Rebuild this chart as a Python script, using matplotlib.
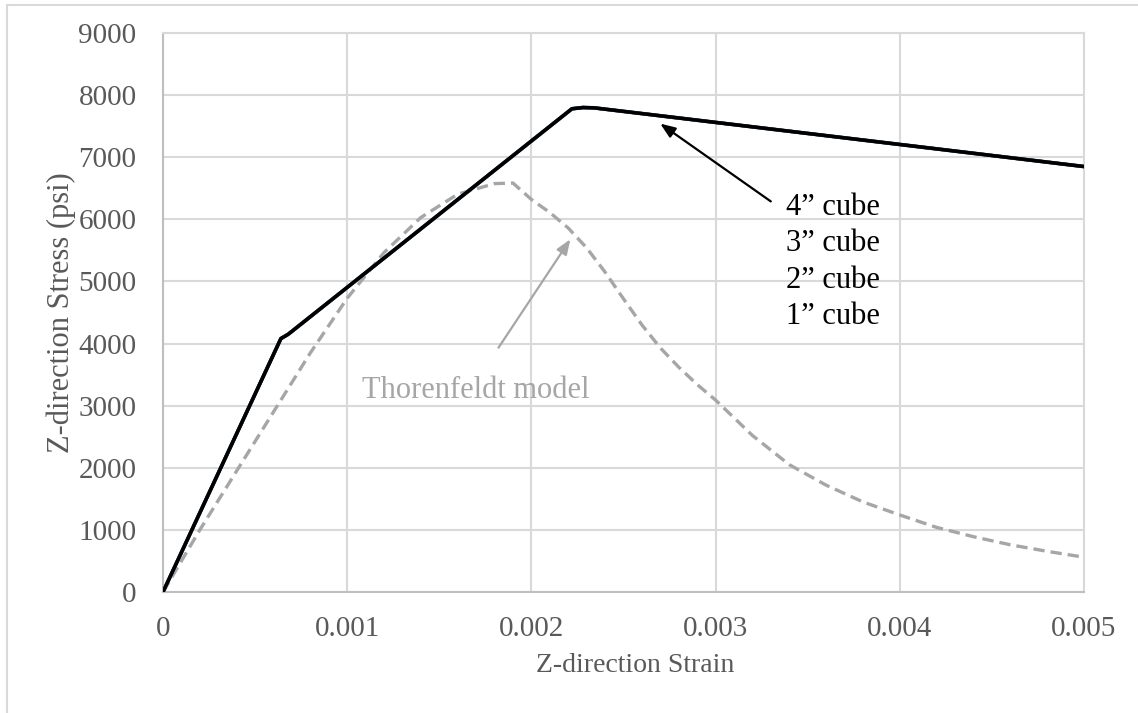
import matplotlib
matplotlib.use("Agg")
import matplotlib.pyplot as plt
from matplotlib.lines import Line2D

# ---- data ----
cube_strain = [0.0, 0.00064, 0.00068, 0.00222, 0.00228, 0.00234, 0.005]
cube4_stress = [0, 4080, 4150, 7780, 7800, 7795, 6850]
cube3_stress = [0, 4080, 4150, 7780, 7800, 7795, 6850]
cube2_stress = [0, 4080, 4150, 7780, 7800, 7795, 6850]
cube1_stress = [0, 4080, 4150, 7780, 7800, 7795, 6850]
cube_labels = ["4\u201d cube", "3\u201d cube", "2\u201d cube", "1\u201d cube"]

thor_strain = [0.0, 0.0002, 0.0004, 0.0006, 0.0008, 0.001, 0.0012, 0.0014, 0.0016,
               0.0018, 0.0019, 0.002, 0.0021, 0.0022, 0.0023, 0.0024, 0.0025,
               0.0026, 0.0027, 0.0028, 0.0029, 0.003, 0.0032, 0.0034, 0.0036,
               0.0038, 0.004, 0.0042, 0.0044, 0.0046, 0.0048, 0.005]
thor_stress = [0, 1000, 1950, 2900, 3850, 4730, 5465, 6030, 6405,
               6575, 6584, 6320, 6110, 5860, 5540, 5150, 4720,
               4300, 3930, 3620, 3340, 3090, 2520, 2050, 1720,
               1450, 1240, 1040, 890, 760, 655, 560]

x_ticks = [0, 0.001, 0.002, 0.003, 0.004, 0.005]
x_ticklabels = ["0", "0.001", "0.002", "0.003", "0.004", "0.005"]
y_ticks = [0, 1000, 2000, 3000, 4000, 5000, 6000, 7000, 8000, 9000]

plt.rcParams['font.family'] = ['Liberation Serif', 'DejaVu Serif']

fig = plt.figure(figsize=(11.38, 7.13), dpi=100)
ax = fig.add_axes([163/1138, 1-592/713, (1084-163)/1138, (592-33)/713])

grid_c = "#d9d9d9"
ax.set_axisbelow(True)
ax.grid(True, color=grid_c, linewidth=1.5)
for s in ax.spines.values():
    s.set_color(grid_c)
    s.set_linewidth(1.5)
ax.spines['bottom'].set_color("#bfbfbf")
ax.spines['left'].set_color("#bfbfbf")

ax.plot(thor_strain, thor_stress, color="#a6a6a6", lw=2.4, ls=(0, (3.4, 1.8)), zorder=2)
ax.plot(cube_strain, cube1_stress, color="#5b9bd5", lw=2.7, zorder=3, solid_joinstyle='round')
ax.plot(cube_strain, cube2_stress, color="#7f7f7f", lw=2.6, zorder=4, solid_joinstyle='round')
ax.plot(cube_strain, cube3_stress, color="#262626", lw=2.5, zorder=5, solid_joinstyle='round')
ax.plot(cube_strain, cube4_stress, color="#000000", lw=2.4, zorder=6, solid_joinstyle='round')

ax.set_xlim(0, 0.005)
ax.set_ylim(0, 9000)
ax.set_xticks(x_ticks)
ax.set_xticklabels(x_ticklabels)
ax.set_yticks(y_ticks)
ax.tick_params(axis='both', length=0, labelsize=21, colors="#595959")
ax.tick_params(axis='x', pad=17)
ax.tick_params(axis='y', pad=19)

ax.set_xlabel("Z-direction Strain", fontsize=20, color="#595959")
ax.xaxis.set_label_coords((635 - 163) / 921, -(666 - 592) / 559)
ax.xaxis.label.set_va("center")
ax.set_ylabel("Z-direction Stress (psi)", fontsize=22, color="#595959", labelpad=2)

# annotations
ax.annotate("", xy=(0.002687, 7567), xytext=(0.003312, 6263),
            arrowprops=dict(arrowstyle="-|>,head_length=0.9,head_width=0.35",
                            color="black", lw=1.6), zorder=7)
for i, lab in enumerate(cube_labels):
    ax.text(0.003382, 6183 - i * 580, lab, fontsize=22, color="black",
            ha="left", va="center", zorder=7)

ax.annotate("", xy=(0.00222, 5716), xytext=(0.001813, 3896),
            arrowprops=dict(arrowstyle="-|>,head_length=0.9,head_width=0.35",
                            color="#a6a6a6", lw=1.6), zorder=7)
ax.text(0.00108, 3252, "Thorenfeldt model", fontsize=22, color="#a6a6a6",
        ha="left", va="center", zorder=7)

# outer chart border (top and left)
fig.add_artist(Line2D([7/1138, 1], [1-5/713, 1-5/713], color=grid_c, lw=1.5,
                      transform=fig.transFigure))
fig.add_artist(Line2D([7/1138, 7/1138], [0, 1-5/713], color=grid_c, lw=1.5,
                      transform=fig.transFigure))

fig.savefig("out.png", dpi=100, facecolor="white")
